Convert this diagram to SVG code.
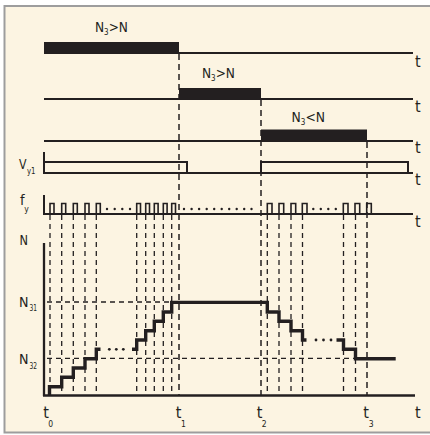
<svg xmlns="http://www.w3.org/2000/svg" width="430" height="435" viewBox="0 0 430 435">
<style>
.txt{font-family:"Liberation Sans Narrow","DejaVu Sans Condensed","Liberation Sans",Arial,sans-serif;fill:#231f20}
.lb{font-size:14.5px}
.sub{font-size:8.5px}
.tt{font-size:16px}
.ln{stroke:#231f20;stroke-width:2;fill:none}
.ax{stroke:#231f20;stroke-width:2.3;fill:none}
.bar{fill:#231f20}
.pl{stroke:#231f20;stroke-width:1.6;fill:none}
.dsh{stroke:#231f20;stroke-width:1.3;stroke-dasharray:5 4;fill:none}
.dsht{stroke:#231f20;stroke-width:1.5;stroke-dasharray:6 4;fill:none}
.stair{stroke:#231f20;stroke-width:3.4;fill:none;stroke-linejoin:miter;stroke-linecap:butt}
.dot{fill:#231f20}
</style>
<rect x="0" y="0" width="430" height="435" fill="#ffffff"/>
<rect x="4.5" y="6" width="440" height="426.5" fill="#fcf4e2" stroke="#9d9d9d" stroke-width="2"/>

<g id="connectors">
  <line class="dsht" x1="179" y1="54" x2="179" y2="395"/>
  <line class="dsht" x1="261" y1="100" x2="261" y2="395"/>
  <line class="dsht" x1="367" y1="142" x2="367" y2="395"/>
  <g class="dsh">
    <line x1="50" y1="215" x2="50" y2="395"/>
    <line x1="61.7" y1="215" x2="61.7" y2="395"/>
    <line x1="73.3" y1="215" x2="73.3" y2="395"/>
    <line x1="85" y1="215" x2="85" y2="395"/>
    <line x1="96.3" y1="215" x2="96.3" y2="395"/>
    <line x1="136.7" y1="215" x2="136.7" y2="395"/>
    <line x1="145.7" y1="215" x2="145.7" y2="395"/>
    <line x1="154.3" y1="215" x2="154.3" y2="395"/>
    <line x1="163.3" y1="215" x2="163.3" y2="395"/>
    <line x1="171.7" y1="215" x2="171.7" y2="395"/>
    <line x1="267.3" y1="215" x2="267.3" y2="395"/>
    <line x1="279" y1="215" x2="279" y2="395"/>
    <line x1="291" y1="215" x2="291" y2="395"/>
    <line x1="302.5" y1="215" x2="302.5" y2="395"/>
    <line x1="343.5" y1="215" x2="343.5" y2="395"/>
    <line x1="355.5" y1="215" x2="355.5" y2="395"/>
    <line x1="47" y1="302" x2="262" y2="302"/>
    <line x1="47" y1="358.3" x2="356" y2="358.3"/>
  </g>
</g>

<g id="row1">
  <rect class="bar" x="44" y="42" width="135" height="12"/>
  <line class="ln" x1="179" y1="53" x2="413" y2="53"/>
  <text class="txt tt" x="415" y="66.5">t</text>
  <text class="txt lb" x="95" y="32" textLength="33" lengthAdjust="spacingAndGlyphs">N<tspan class="sub" dy="3">3</tspan><tspan dy="-3">&gt;N</tspan></text>
</g>

<g id="row2">
  <line class="ln" x1="44" y1="99" x2="413" y2="99"/>
  <rect class="bar" x="179" y="88" width="82" height="12"/>
  <text class="txt tt" x="415" y="111.5">t</text>
  <text class="txt lb" x="202" y="78" textLength="33" lengthAdjust="spacingAndGlyphs">N<tspan class="sub" dy="3">3</tspan><tspan dy="-3">&gt;N</tspan></text>
</g>

<g id="row3">
  <line class="ln" x1="44" y1="141" x2="413" y2="141"/>
  <rect class="bar" x="261" y="129.5" width="106" height="12.5"/>
  <text class="txt tt" x="415" y="153">t</text>
  <text class="txt lb" x="291.5" y="122" textLength="33.5" lengthAdjust="spacingAndGlyphs">N<tspan class="sub" dy="3">3</tspan><tspan dy="-3">&lt;N</tspan></text>
</g>

<g id="vy1">
  <line class="ln" x1="44" y1="152" x2="44" y2="174"/>
  <polyline class="ln" points="44,162 187,162 187,173"/>
  <polyline class="ln" points="261,173 261,162 408,162 408,173"/>
  <line class="ln" x1="44" y1="173" x2="413" y2="173"/>
  <text class="txt tt" x="415" y="184.5">t</text>
  <text class="txt lb" x="19" y="168.5" textLength="7.5" lengthAdjust="spacingAndGlyphs">V</text>
  <text class="txt sub" x="27" y="173.5" textLength="8.5" lengthAdjust="spacingAndGlyphs">y1</text>
</g>

<g id="fy">
  <line class="ln" x1="44" y1="195" x2="44" y2="215"/>
  <line class="ln" x1="44" y1="214" x2="413" y2="214"/>
  <path class="pl" d="M50 214V203.5H54V214 M61.7 214V203.5H65.7V214 M73.3 214V203.5H77.3V214 M85 214V203.5H89V214 M96.3 214V203.5H100.3V214 M136.7 214V203.5H140.5V214 M145.7 214V203.5H149.5V214 M154.3 214V203.5H158.1V214 M163.3 214V203.5H167.1V214 M171.7 214V203.5H175.5V214 M267.3 214V203.5H272V214 M279 214V203.5H283.7V214 M291 214V203.5H295.7V214 M302.3 214V203.5H307V214 M343.3 214V203.5H348V214 M355 214V203.5H359.7V214 M366.7 214V203.5H371.3V214"/>
  <g class="dot">
    <circle cx="107" cy="209" r="1.2"/><circle cx="114.7" cy="209" r="1.2"/><circle cx="122.3" cy="209" r="1.2"/><circle cx="130" cy="209" r="1.2"/>
    <circle cx="184" cy="209" r="1.2"/><circle cx="191.6" cy="209" r="1.2"/><circle cx="199.1" cy="209" r="1.2"/><circle cx="206.7" cy="209" r="1.2"/><circle cx="214.2" cy="209" r="1.2"/><circle cx="221.7" cy="209" r="1.2"/><circle cx="229.2" cy="209" r="1.2"/><circle cx="236.7" cy="209" r="1.2"/><circle cx="244.2" cy="209" r="1.2"/><circle cx="251.5" cy="209" r="1.2"/>
    <circle cx="313.3" cy="209" r="1.2"/><circle cx="320.8" cy="209" r="1.2"/><circle cx="328.3" cy="209" r="1.2"/><circle cx="335.8" cy="209" r="1.2"/>
  </g>
  <text class="txt tt" x="415" y="227">t</text>
  <text class="txt lb" x="20" y="205">f</text>
  <text class="txt sub" x="24.3" y="212">y</text>
</g>

<g id="nplot">
  <line class="ax" x1="44" y1="243" x2="44" y2="396"/>
  <line class="ax" x1="43" y1="395.5" x2="415" y2="395.5"/>
  <path class="stair" d="M49.5 395.5V386.7H61.7V377.3H73.3V368H85V358.7H96.3V349.3H100.5"/>
  <path class="stair" d="M132 349.3H136.7V340H145.7V330.7H154.3V321.3H163.3V312H171.7V302.4H267.3V312H279V321.3H291V330.7H302.5V340H306.5"/>
  <path class="stair" d="M336.5 340H343.5V349.3H355.5V358.8H395.7"/>
  <g class="dot">
    <circle cx="109.3" cy="349.3" r="1.4"/><circle cx="116.3" cy="349.3" r="1.4"/><circle cx="123.3" cy="349.3" r="1.4"/>
    <circle cx="316" cy="340" r="1.4"/><circle cx="323.5" cy="340" r="1.4"/><circle cx="331" cy="340" r="1.4"/>
  </g>
  <text class="txt lb" x="19.5" y="244.5" textLength="8.5" lengthAdjust="spacingAndGlyphs">N</text>
  <text class="txt lb" x="19" y="306.7" textLength="9.5" lengthAdjust="spacingAndGlyphs">N</text>
  <text class="txt sub" x="29.5" y="311" textLength="7.5" lengthAdjust="spacingAndGlyphs">31</text>
  <text class="txt lb" x="19" y="364.3" textLength="9.5" lengthAdjust="spacingAndGlyphs">N</text>
  <text class="txt sub" x="29.5" y="369" textLength="7.5" lengthAdjust="spacingAndGlyphs">32</text>
  <text class="txt tt" x="43.3" y="418.3">t</text><text class="txt sub" x="48.3" y="427">0</text>
  <text class="txt tt" x="175.7" y="418.3">t</text><text class="txt sub" x="181" y="427">1</text>
  <text class="txt tt" x="256.7" y="418.3">t</text><text class="txt sub" x="261.7" y="427">2</text>
  <text class="txt tt" x="363.3" y="418.3">t</text><text class="txt sub" x="368.7" y="427">3</text>
  <text class="txt tt" x="415" y="418.3">t</text>
</g>
</svg>
